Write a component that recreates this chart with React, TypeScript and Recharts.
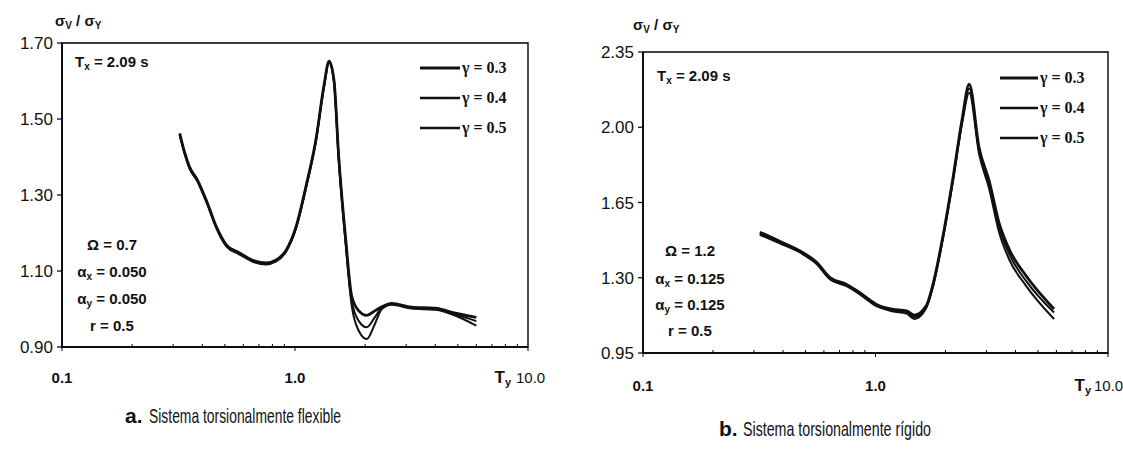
import React from "react";
import { LineChart, Line, XAxis, YAxis, Legend, ReferenceArea } from "recharts";

const gammaNames = ["γ = 0.3", "γ = 0.4", "γ = 0.5"];
const gammaKeys = ["g3", "g4", "g5"];
const gammaWidths = [2.8, 2.0, 2.0];

const xTicks = [0.1, 0.2, 0.3, 0.4, 0.5, 0.6, 0.7, 0.8, 0.9, 1, 2, 3, 4, 5, 6, 7, 8, 9, 10];
const xMajor = [0.1, 1, 10];

// a. sistema torsionalmente flexible
const tyA = [0.32, 0.336, 0.352, 0.381, 0.42, 0.46, 0.507, 0.576, 0.655, 0.751, 0.83, 0.916, 1.01, 1.114, 1.23, 1.33, 1.4, 1.47, 1.54, 1.65, 1.75, 1.88, 2.03, 2.2, 2.36, 2.6, 3.16, 4.0, 4.87, 6.0];
const a03 = [1.462, 1.412, 1.375, 1.34, 1.28, 1.216, 1.169, 1.148, 1.129, 1.121, 1.129, 1.155, 1.216, 1.322, 1.446, 1.586, 1.652, 1.602, 1.402, 1.185, 1.035, 0.995, 0.983, 0.995, 1.006, 1.015, 1.005, 1.002, 0.989, 0.978];
const a04 = [1.46, 1.41, 1.373, 1.338, 1.278, 1.214, 1.167, 1.146, 1.127, 1.119, 1.127, 1.153, 1.214, 1.32, 1.444, 1.584, 1.65, 1.6, 1.398, 1.178, 1.022, 0.968, 0.952, 0.978, 1.003, 1.013, 1.003, 1.0, 0.986, 0.968];
const a05 = [1.458, 1.408, 1.371, 1.336, 1.276, 1.212, 1.165, 1.144, 1.125, 1.117, 1.125, 1.151, 1.212, 1.318, 1.442, 1.582, 1.648, 1.597, 1.393, 1.17, 1.01, 0.942, 0.921, 0.96, 1.0, 1.011, 1.001, 0.998, 0.983, 0.956];
const yTicksA = [0.9, 1.1, 1.3, 1.5, 1.7];

// b. sistema torsionalmente rigido
const tyB = [0.318, 0.387, 0.486, 0.558, 0.635, 0.751, 0.853, 1.01, 1.18, 1.36, 1.47, 1.65, 1.76, 1.94, 2.14, 2.36, 2.53, 2.79, 3.08, 3.4, 3.76, 4.45, 5.86];
const b03 = [1.512, 1.47, 1.418, 1.372, 1.302, 1.269, 1.232, 1.176, 1.154, 1.146, 1.126, 1.168, 1.262, 1.48, 1.745, 2.04, 2.2, 1.905, 1.752, 1.555, 1.432, 1.308, 1.155];
const b04 = [1.506, 1.465, 1.414, 1.368, 1.298, 1.265, 1.228, 1.172, 1.149, 1.14, 1.117, 1.163, 1.256, 1.474, 1.738, 2.03, 2.18, 1.89, 1.735, 1.535, 1.41, 1.284, 1.138];
const b05 = [1.5, 1.46, 1.41, 1.364, 1.294, 1.261, 1.224, 1.168, 1.144, 1.133, 1.108, 1.158, 1.25, 1.468, 1.73, 2.02, 2.16, 1.875, 1.715, 1.512, 1.385, 1.261, 1.108];
const yTicksB = [0.95, 1.3, 1.65, 2.0, 2.35];

const rowsA = tyA.map((t, i) => ({ t, g3: a03[i], g4: a04[i], g5: a05[i] }));
const rowsB = tyB.map((t, i) => ({ t, g3: b03[i], g4: b04[i], g5: b05[i] }));

const sans = "'Liberation Sans', Arial, sans-serif";
const serif = "'Liberation Serif', 'Times New Roman', serif";

function GammaLegend({ lineLen }: { lineLen: number }) {
  return (
    <div>
      {gammaNames.map((n, i) => (
        <div key={n} style={{ display: "flex", alignItems: "center", height: 30 }}>
          <svg width={lineLen} height={6}>
            <line x1={0} x2={lineLen} y1={3} y2={3} stroke="#111" strokeWidth={gammaWidths[i] + 0.4} />
          </svg>
          <span style={{ fontFamily: serif, fontSize: 16, fontWeight: "bold", marginLeft: 2, color: "#111" }}>{n}</span>
        </div>
      ))}
    </div>
  );
}

type PanelProps = {
  rows: any[];
  width: number;
  margin: { top: number; right: number; bottom: number; left: number };
  yDomain: [number, number];
  yTicks: number[];
  legendLeft: number;
  legendTop: number;
  lineLen: number;
  labelDy: number;
  tyEnd: number;
  tenStart: number;
};

const AXIS_W = 60;
const AXIS_H = 30;

function Panel(p: PanelProps) {
  const xTick = (props: any) => {
    const { x, y, payload } = props;
    const v = payload.value;
    const major = xMajor.includes(v);
    if (!major) {
      return <line x1={x} x2={x} y1={y} y2={y - 3} stroke="#000" strokeWidth={1} />;
    }
    if (v === 10) {
      return (
        <g>
          <line x1={x} x2={x} y1={y} y2={y + 4} stroke="#000" strokeWidth={1} />
          <text x={x + p.tyEnd} y={y + p.labelDy} textAnchor="end" fontFamily={sans} fontSize={17} fontWeight="bold" fill="#111">
            T<tspan fontSize={11} dy={3}>y</tspan>
          </text>
          <text x={x + p.tenStart} y={y + p.labelDy} textAnchor="start" fontFamily={sans} fontSize={15} fill="#111">
            10.0
          </text>
        </g>
      );
    }
    return (
      <g>
        <line x1={x} x2={x} y1={y} y2={y + 4} stroke="#000" strokeWidth={1} />
        <text x={x} y={y + p.labelDy} textAnchor="middle" fontFamily={sans} fontSize={15} fontWeight="bold" fill="#111">
          {v === 1 ? "1.0" : "0.1"}
        </text>
      </g>
    );
  };

  const yTick = (props: any) => {
    const { x, y, payload } = props;
    return (
      <g>
        <line x1={x - 5} x2={x} y1={y} y2={y} stroke="#000" strokeWidth={1.2} />
        <text x={x - 9} y={y} dy={6} textAnchor="end" fontFamily={sans} fontSize={17} fill="#111">
          {Number(payload.value).toFixed(2)}
        </text>
      </g>
    );
  };

  const m = {
    top: p.margin.top,
    right: p.margin.right,
    bottom: p.margin.bottom - AXIS_H,
    left: p.margin.left - AXIS_W,
  };

  return (
    <LineChart width={p.width} height={470} data={p.rows} margin={m}>
      <XAxis
        dataKey="t"
        type="number"
        scale="log"
        domain={[0.1, 10]}
        ticks={xTicks}
        interval={0}
        allowDataOverflow
        height={AXIS_H}
        tickSize={0}
        tickMargin={0}
        tickLine={false}
        axisLine={{ stroke: "#000", strokeWidth: 1.6 }}
        tick={xTick}
      />
      <YAxis
        type="number"
        domain={p.yDomain}
        ticks={p.yTicks}
        interval={0}
        allowDataOverflow
        width={AXIS_W}
        tickSize={0}
        tickMargin={0}
        tickLine={false}
        axisLine={{ stroke: "#000", strokeWidth: 1.6 }}
        tick={yTick}
      />
      <ReferenceArea
        x1={0.1}
        x2={10}
        y1={p.yDomain[0]}
        y2={p.yDomain[1]}
        fill="none"
        fillOpacity={0}
        stroke="#000"
        strokeWidth={1.4}
        ifOverflow="visible"
      />
      {gammaKeys.map((k, i) => (
        <Line
          key={k}
          dataKey={k}
          name={gammaNames[i]}
          type="monotone"
          stroke="#111"
          strokeWidth={gammaWidths[i]}
          dot={false}
          isAnimationActive={false}
        />
      ))}
      <Legend
        layout="vertical"
        align="center"
        verticalAlign="middle"
        wrapperStyle={{ left: p.legendLeft, top: p.legendTop, width: 130, height: 90 }}
        content={() => <GammaLegend lineLen={p.lineLen} />}
      />
    </LineChart>
  );
}

function Params({ cx, ys, omega, ax }: { cx: number; ys: number[]; omega: string; ax: string }) {
  const st = { fontFamily: sans, fontSize: 15, fontWeight: "bold" as const, fill: "#111", textAnchor: "middle" as const };
  return (
    <g>
      <text x={cx} y={ys[0]} {...st}>Ω = {omega}</text>
      <text x={cx} y={ys[1]} {...st}>α<tspan fontSize={10} dy={3}>x</tspan><tspan dy={-3}> = {ax}</tspan></text>
      <text x={cx} y={ys[2]} {...st}>α<tspan fontSize={10} dy={3}>y</tspan><tspan dy={-3}> = {ax}</tspan></text>
      <text x={cx} y={ys[3]} {...st}>r = 0.5</text>
    </g>
  );
}

function SigmaTitle({ x, y }: { x: number; y: number }) {
  return (
    <text x={x} y={y} fontFamily={sans} fontSize={15} fontWeight="bold" fill="#111">
      σ<tspan fontSize={10} dy={3}>V</tspan><tspan dy={-3}> / σ</tspan><tspan fontSize={10} dy={3}>Y</tspan>
    </text>
  );
}

function TxNote({ x, y }: { x: number; y: number }) {
  return (
    <text x={x} y={y} fontFamily={sans} fontSize={15} fontWeight="bold" fill="#111">
      T<tspan fontSize={10} dy={3}>x</tspan><tspan dy={-3}> = 2.09 s</tspan>
    </text>
  );
}

export default function App() {
  return (
    <div style={{ position: "absolute", left: 0, top: 0, width: 1123, height: 470, background: "#fff", overflow: "hidden" }}>
      <div style={{ position: "absolute", left: 0, top: 0 }}>
        <Panel
          rows={rowsA}
          width={580}
          margin={{ top: 43, right: 52, bottom: 123, left: 62 }}
          yDomain={[0.9, 1.7]}
          yTicks={yTicksA}
          legendLeft={420}
          legendTop={53}
          lineLen={40}
          labelDy={36}
          tyEnd={-17}
          tenStart={-12}
        />
      </div>
      <div style={{ position: "absolute", left: 580, top: 0 }}>
        <Panel
          rows={rowsB}
          width={543}
          margin={{ top: 52, right: 15, bottom: 117, left: 63 }}
          yDomain={[0.95, 2.35]}
          yTicks={yTicksB}
          legendLeft={420}
          legendTop={63}
          lineLen={38}
          labelDy={38}
          tyEnd={-17}
          tenStart={-14}
        />
      </div>
      <svg width={1123} height={470} style={{ position: "absolute", left: 0, top: 0, pointerEvents: "none" }}>
        <SigmaTitle x={55} y={26} />
        <SigmaTitle x={633} y={30} />
        <TxNote x={75} y={67} />
        <TxNote x={657} y={81} />
        <Params cx={112} ys={[250, 277, 304, 331]} omega="0.7" ax="0.050" />
        <Params cx={690} ys={[256, 284, 310, 336]} omega="1.2" ax="0.125" />
        <text x={125} y={423} fontFamily={sans} fontSize={21} fontWeight="bold" fill="#111">a.</text>
        <text x={149} y={423} fontFamily={sans} fontSize={21} fill="#111" textLength={192} lengthAdjust="spacingAndGlyphs">
          Sistema torsionalmente flexible
        </text>
        <text x={719} y={436} fontFamily={sans} fontSize={21} fontWeight="bold" fill="#111">b.</text>
        <text x={743} y={436} fontFamily={sans} fontSize={21} fill="#111" textLength={188} lengthAdjust="spacingAndGlyphs">
          Sistema torsionalmente rígido
        </text>
      </svg>
    </div>
  );
}
